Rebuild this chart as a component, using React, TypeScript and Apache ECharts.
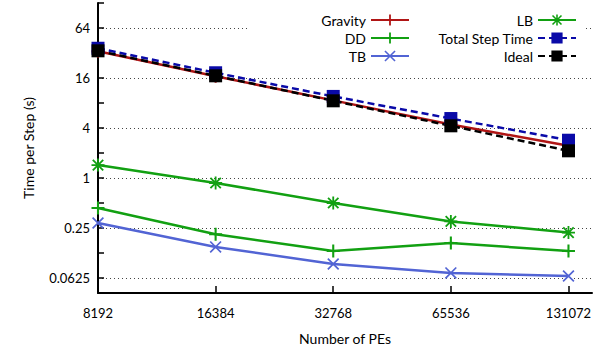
import React, { useEffect, useRef } from "react";
import * as echarts from "echarts";

const peCounts = [8192, 16384, 32768, 65536, 131072];
const gravity = [33.5, 16.8, 8.6, 4.4, 2.45];
const dd = [0.435, 0.21, 0.132, 0.165, 0.132];
const tb = [0.287, 0.148, 0.092, 0.072, 0.066];
const lb = [1.43, 0.87, 0.5, 0.3, 0.22];
const totalStep = [36.5, 18.5, 9.6, 5.2, 2.85];
const ideal = [34, 17, 8.5, 4.25, 2.125];

const yMajorTicks = [0.0625, 0.25, 1, 4, 16, 64];
const yMinorTicks = [0.125, 0.5, 2, 8, 32, 128];

const FONT = "Lato";
const PLUS = "path://M0,4.2 H10 V5.8 H0 Z M4.2,0 H5.8 V10 H4.2 Z";
const CROSS = "path://M0,1 L1,0 L10,9 L9,10 Z M9,0 L10,1 L1,10 L0,9 Z";
const STAR =
  "path://M0,4.3 H10 V5.7 H0 Z M4.3,0 H5.7 V10 H4.3 Z M0.5,1.5 L1.5,0.5 L9.5,8.5 L8.5,9.5 Z M8.5,0.5 L9.5,1.5 L1.5,9.5 L0.5,8.5 Z";

const lg2 = (v: number) => Math.log2(v);

function mkSeries(
  name: string,
  values: number[],
  color: string,
  symbol: string,
  symbolSize: number,
  dashed: boolean
) {
  return {
    name,
    type: "line",
    data: values.map((v, i) => [lg2(peCounts[i]), lg2(v)]),
    symbol,
    symbolSize,
    showSymbol: true,
    itemStyle: { color, opacity: 1 },
    lineStyle: { color, width: 2.5, type: dashed ? [7, 4] : "solid" },
    emphasis: { disabled: true },
  };
}

export default function App() {
  const ref = useRef<HTMLDivElement>(null);
  useEffect(() => {
    if (!ref.current) return;
    const chart = echarts.init(ref.current, undefined, { renderer: "svg" });
    const labelStyle = { fontFamily: FONT, fontSize: 13, color: "#000" };
    chart.setOption({
      animation: false,
      textStyle: { fontFamily: FONT },
      grid: { left: 98, right: 5, top: 3, bottom: 57, containLabel: false },
      graphic: [
        {
          type: "rect",
          z: 3,
          shape: { x: 250, y: 10, width: 333, height: 56 },
          style: { fill: "#fff" },
        },
      ],
      legend: [
        {
          orient: "vertical",
          align: "right",
          right: 187,
          top: 13,
          itemWidth: 38,
          itemHeight: 14,
          itemGap: 4,
          padding: 0,
          textStyle: { ...labelStyle, fontSize: 14 },
          data: ["Gravity", "DD", "TB"],
          selectedMode: false,
        },
        {
          orient: "vertical",
          align: "right",
          right: 20,
          top: 13,
          itemWidth: 38,
          itemHeight: 14,
          itemGap: 4,
          padding: 0,
          textStyle: { ...labelStyle, fontSize: 14 },
          data: ["LB", "Total Step Time", "Ideal"],
          selectedMode: false,
        },
      ],
      xAxis: {
        type: "value",
        min: 13,
        max: 17.2,
        name: "Number of PEs",
        nameLocation: "middle",
        nameGap: 38,
        nameTextStyle: { ...labelStyle, fontSize: 14 },
        axisLine: { show: true, onZero: false, lineStyle: { color: "#000", width: 2 } },
        axisTick: {
          show: true,
          inside: true,
          length: 7,
          lineStyle: { color: "#000", width: 1.5 },
          customValues: peCounts.map(lg2),
        },
        axisLabel: {
          ...labelStyle,
          margin: 13,
          customValues: peCounts.map(lg2),
          formatter: (v: number) => String(Math.round(Math.pow(2, v))),
        },
        splitLine: { show: false },
      },
      yAxis: [
        {
          type: "value",
          min: -4.6,
          max: 7,
          name: "Time per Step (s)",
          nameLocation: "middle",
          nameRotate: 90,
          nameGap: 63,
          nameTextStyle: { ...labelStyle, fontSize: 14 },
          axisLine: { show: true, onZero: false, lineStyle: { color: "#000", width: 2 } },
          axisTick: {
            show: true,
            inside: true,
            length: 6,
            lineStyle: { color: "#000", width: 1.5 },
            customValues: yMajorTicks.map(lg2),
          },
          axisLabel: {
            ...labelStyle,
            margin: 8,
            customValues: yMajorTicks.map(lg2),
            formatter: (v: number) => String(Math.pow(2, Math.round(v))),
          },
          splitLine: {
            show: true,
            lineStyle: { color: "#444", width: 1, type: [1, 3] },
          },
        },
        {
          type: "value",
          position: "left",
          min: -4.6,
          max: 7,
          axisLine: { show: false, onZero: false },
          axisTick: {
            show: true,
            inside: true,
            length: 6,
            lineStyle: { color: "#000", width: 1.5 },
            customValues: yMinorTicks.map(lg2),
          },
          axisLabel: { show: false },
          splitLine: { show: false },
        },
      ],
      series: [
        mkSeries("Gravity", gravity, "#b01515", PLUS, 13, false),
        mkSeries("DD", dd, "#12a012", PLUS, 13, false),
        mkSeries("TB", tb, "#5264d4", CROSS, 12, false),
        mkSeries("LB", lb, "#12a012", STAR, 13, false),
        mkSeries("Total Step Time", totalStep, "#0a0aa8", "rect", 13, true),
        mkSeries("Ideal", ideal, "#000000", "rect", 13, true),
      ],
    });
    return () => chart.dispose();
  }, []);
  return (
    <div
      ref={ref}
      style={{ position: "absolute", left: 0, top: 0, width: 597, height: 350 }}
    />
  );
}
